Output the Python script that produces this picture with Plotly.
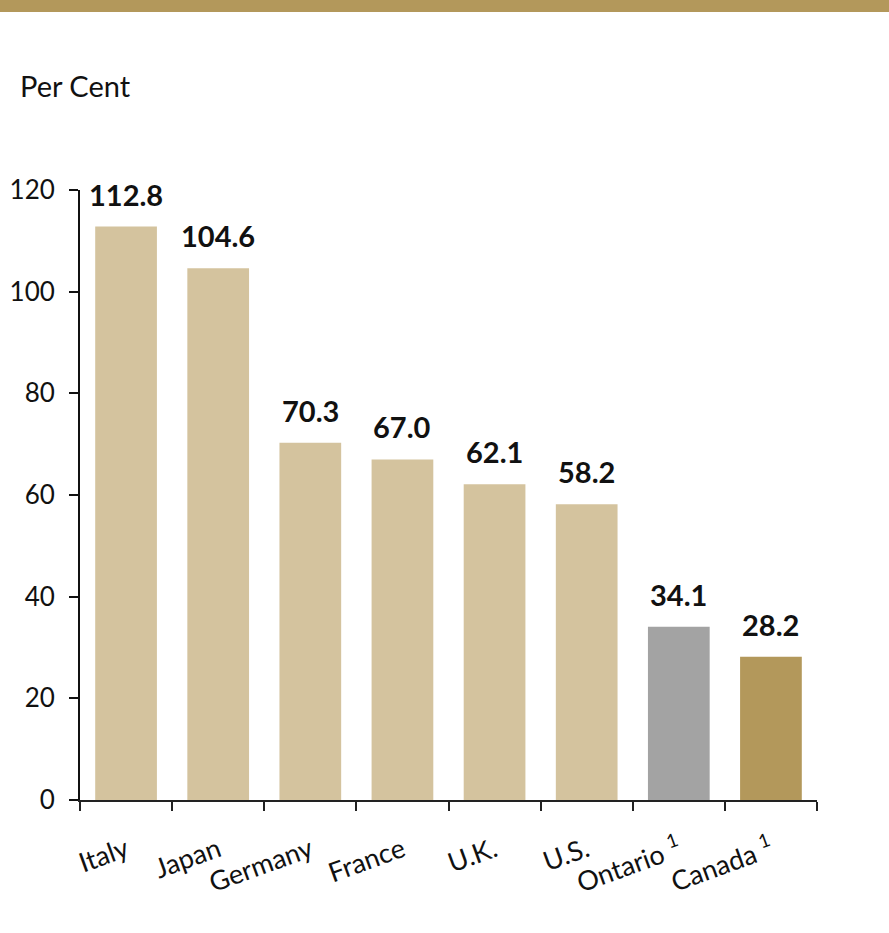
import plotly.graph_objects as go

categories = ["Italy", "Japan", "Germany", "France", "U.K.", "U.S.", "Ontario <sup>1</sup>", "Canada <sup>1</sup>"]
values = [112.8, 104.6, 70.3, 67.0, 62.1, 58.2, 34.1, 28.2]
labels = ["112.8", "104.6", "70.3", "67.0", "62.1", "58.2", "34.1", "28.2"]
colors = ["#D4C39E"] * 6 + ["#A3A3A3", "#B3985B"]
y_ticks = [0, 20, 40, 60, 80, 100, 120]

FONT = "Lato, 'Open Sans', sans-serif"

fig = go.Figure(go.Bar(
    x=categories, y=values,
    marker=dict(color=colors, line=dict(width=0)),
    cliponaxis=False,
))

for c, v, t in zip(categories, values, labels):
    fig.add_annotation(x=c, y=v, text=f"<b>{t}</b>", showarrow=False,
                       xanchor="center", yanchor="bottom", yshift=13,
                       font=dict(family=FONT, size=29, color="#111111"))

fig.update_layout(
    width=889, height=933,
    margin=dict(l=80, r=72, t=190, b=133),
    paper_bgcolor="white", plot_bgcolor="white",
    bargap=0.33,
    showlegend=False,
    font=dict(family=FONT, color="#111111"),
    xaxis=dict(
        automargin=False,
        showline=True, linecolor="#222222", linewidth=2,
        ticks="outside", ticklen=9, tickwidth=2, tickcolor="#222222",
        tickson="boundaries", tickangle=-20, ticklabelstandoff=22,
        tickfont=dict(size=27, family=FONT, color="#111111"),
        showgrid=False,
    ),
    yaxis=dict(
        automargin=False,
        range=[0, 120], tickvals=y_ticks,
        showline=True, linecolor="#111111", linewidth=2,
        ticks="outside", ticklen=9, tickwidth=2, tickcolor="#111111",
        ticklabelstandoff=9,
        tickfont=dict(size=26, family=FONT, color="#111111"),
        showgrid=False, zeroline=False,
    ),
    shapes=[dict(type="rect", xref="paper", yref="paper",
                 x0=-0.2, x1=1.2, y0=(800 - 12) / 610, y1=1.4,
                 fillcolor="#B3985B", line=dict(width=0), layer="above")],
)
fig.add_annotation(text="Per Cent", xref="paper", yref="paper",
                   x=(18 - 80) / 737, y=(800 - 86) / 610,
                   xanchor="left", yanchor="middle", showarrow=False,
                   font=dict(size=29, family=FONT, color="#111111"))

fig.write_html("out.html", config={"displayModeBar": False},
               post_script="document.body.style.margin='0';document.body.style.padding='0';")
